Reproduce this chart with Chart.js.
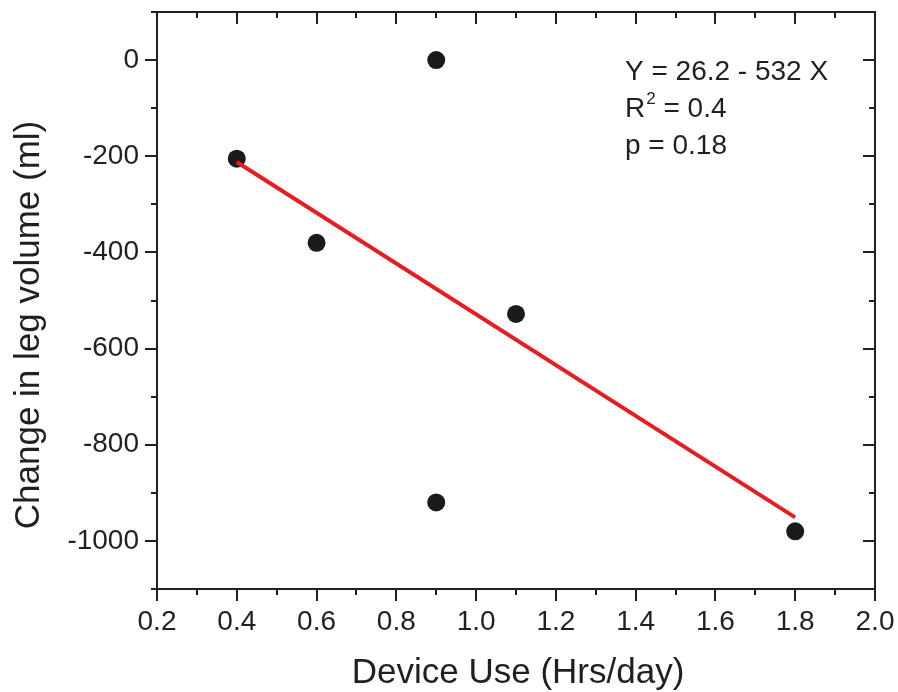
<!DOCTYPE html>
<html>
<head>
<meta charset="utf-8">
<script src="https://cdn.jsdelivr.net/npm/chart.js@4.4.1/dist/chart.umd.min.js"></script>
<style>
  html, body { margin: 0; padding: 0; background: #fff; }
  canvas { display: block; }
</style>
</head>
<body>
<canvas id="chart" width="898" height="692"></canvas>
<script>
// measured points: device use (hrs/day) vs change in leg volume (ml)
const deviceUse = [0.4, 0.6, 0.9, 0.9, 1.1, 1.8];
const legVolume = [-205, -380, 0, -920, -528, -980];

// regression line end points
const fitX = [0.4, 1.8];
const fitY = [-212, -951];

const xTicks = [0.2, 0.4, 0.6, 0.8, 1.0, 1.2, 1.4, 1.6, 1.8, 2.0];
const xMinor = [0.3, 0.5, 0.7, 0.9, 1.1, 1.3, 1.5, 1.7, 1.9];
const yTicks = [0, -200, -400, -600, -800, -1000];
const yMinor = [100, -100, -300, -500, -700, -900, -1100];

const xTitle = 'Device Use (Hrs/day)';
const yTitle = 'Change in leg volume (ml)';
const statLines = ['Y = 26.2 - 532 X', 'R|2| = 0.4', 'p = 0.18'];

const FONT = '"Liberation Sans", Arial, Helvetica, sans-serif';
const INK = '#231f20';

const framePlugin = {
    id: 'frame',
    beforeDatasetsDraw(chart) {
        const { ctx, chartArea: a, scales: { x, y } } = chart;
        ctx.save();
        ctx.strokeStyle = INK;
        ctx.lineWidth = 2;
        ctx.strokeRect(a.left, a.top, a.right - a.left, a.bottom - a.top);

        ctx.beginPath();
        const xMark = (v, len) => {
            const px = Math.round(x.getPixelForValue(v));
            ctx.moveTo(px, a.bottom); ctx.lineTo(px, a.bottom + len);
            ctx.moveTo(px, a.top); ctx.lineTo(px, a.top + len);
        };
        const yMark = (v, len) => {
            const py = Math.round(y.getPixelForValue(v));
            ctx.moveTo(a.left - len, py); ctx.lineTo(a.left, py);
            ctx.moveTo(a.right - len, py); ctx.lineTo(a.right, py);
        };
        xTicks.forEach(v => xMark(v, 12));
        xMinor.forEach(v => xMark(v, 6));
        yTicks.forEach(v => yMark(v, 12));
        yMinor.forEach(v => yMark(v, 6));
        ctx.stroke();
        ctx.restore();
    },
    afterDraw(chart) {
        const { ctx, chartArea: a } = chart;
        ctx.save();
        ctx.fillStyle = INK;

        // axis titles
        ctx.font = `35px ${FONT}`;
        ctx.textAlign = 'center';
        ctx.textBaseline = 'alphabetic';
        ctx.fillText(xTitle, (a.left + a.right) / 2 + 2, 683);

        ctx.save();
        ctx.translate(39, 325);
        ctx.rotate(-Math.PI / 2);
        ctx.fillText(yTitle, 0, 0);
        ctx.restore();

        // fit statistics
        ctx.textAlign = 'left';
        const left = 625;
        statLines.forEach((line, i) => {
            const base = 80 + i * 37;
            let cx = left;
            line.split('|').forEach((part, j) => {
                if (j === 1) {
                    ctx.font = `17px ${FONT}`;
                    ctx.fillText(part, cx + 1, base - 13);
                    cx += ctx.measureText(part).width + 1;
                } else {
                    ctx.font = `28px ${FONT}`;
                    ctx.fillText(part, cx, base);
                    cx += ctx.measureText(part).width;
                }
            });
        });
        ctx.restore();
    }
};

const noPad = s => { s.paddingTop = 0; s.paddingBottom = 0; s.paddingLeft = 0; s.paddingRight = 0; };

new Chart(document.getElementById('chart'), {
    data: {
        datasets: [
            {
                type: 'line',
                label: 'fit',
                data: fitX.map((v, i) => ({ x: v, y: fitY[i] })),
                borderColor: '#e31e24',
                borderWidth: 4,
                pointRadius: 0,
                fill: false,
                order: 0
            },
            {
                type: 'scatter',
                label: 'data',
                data: deviceUse.map((v, i) => ({ x: v, y: legVolume[i] })),
                backgroundColor: '#1c1a1b',
                borderWidth: 0,
                pointRadius: 9,
                order: 1
            }
        ]
    },
    options: {
        responsive: false,
        animation: false,
        devicePixelRatio: 1,
        layout: { padding: { top: 12, right: 23, left: 0, bottom: 0 } },
        plugins: { legend: { display: false }, tooltip: { enabled: false } },
        scales: {
            x: {
                type: 'linear',
                position: 'bottom',
                min: 0.2,
                max: 2.0,
                afterBuildTicks: s => { s.ticks = xTicks.map(v => ({ value: v })); },
                afterFit: s => { s.height = 103; noPad(s); },
                grid: { display: false, drawTicks: false },
                border: { display: false },
                ticks: {
                    font: { family: FONT, size: 28 },
                    color: INK,
                    padding: 16,
                    maxRotation: 0,
                    autoSkip: false,
                    callback: v => Number(v).toFixed(1)
                }
            },
            y: {
                type: 'linear',
                min: -1100,
                max: 100,
                afterBuildTicks: s => { s.ticks = yTicks.map(v => ({ value: v })); },
                afterFit: s => { s.width = 157; noPad(s); },
                grid: { display: false, drawTicks: false },
                border: { display: false },
                ticks: {
                    font: { family: FONT, size: 28 },
                    color: INK,
                    padding: 18,
                    autoSkip: false,
                    callback: v => String(v)
                }
            }
        }
    },
    plugins: [framePlugin]
});
</script>
</body>
</html>
